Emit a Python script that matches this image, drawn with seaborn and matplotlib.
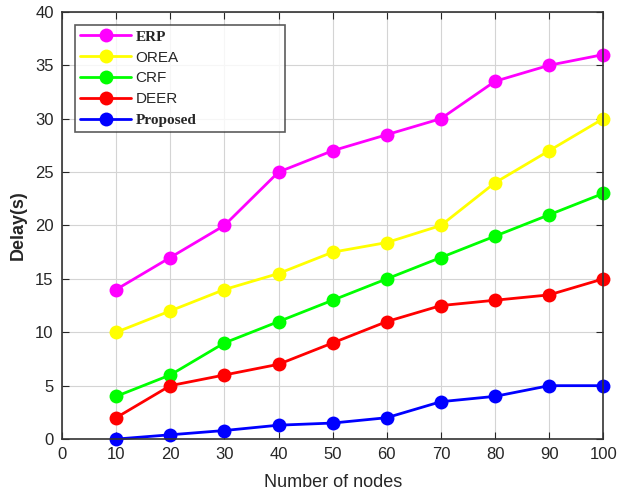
import pandas as pd
import seaborn as sns
from matplotlib import pyplot as plt

nodes = [10, 20, 30, 40, 50, 60, 70, 80, 90, 100]
erp = [14, 17, 20, 25, 27, 28.5, 30, 33.5, 35, 36]
orea = [10, 12, 14, 15.5, 17.5, 18.4, 20, 24, 27, 30]
crf = [4, 6, 9, 11, 13, 15, 17, 19, 21, 23]
deer = [2, 5, 6, 7, 9, 11, 12.5, 13, 13.5, 15]
proposed = [0, 0.4, 0.8, 1.3, 1.5, 2, 3.5, 4, 5, 5]

methods = ['ERP', 'OREA', 'CRF', 'DEER', 'Proposed']
colors = ['#ff00ff', '#ffff00', '#00ff00', '#ff0000', '#0000ff']
xticks = [0, 10, 20, 30, 40, 50, 60, 70, 80, 90, 100]
yticks = [0, 5, 10, 15, 20, 25, 30, 35, 40]

frames = []
for name, vals in zip(methods, [erp, orea, crf, deer, proposed]):
    frames.append(pd.DataFrame({'nodes': nodes, 'delay': vals, 'method': name}))
df = pd.concat(frames, ignore_index=True)

sns.set_style('ticks')
plt.rcParams['font.family'] = ['Liberation Sans', 'DejaVu Sans']

fig = plt.figure(figsize=(6.2, 4.95), dpi=100)
ax = fig.add_axes([0.1, 0.113, 0.873, 0.863])

sns.lineplot(data=df, x='nodes', y='delay', hue='method', hue_order=methods,
             palette=colors, marker='o', markersize=10, markeredgewidth=0,
             linewidth=2, ax=ax)

ax.set_xlim(0, 100)
ax.set_ylim(0, 40)
ax.set_xticks(xticks)
ax.set_yticks(yticks)
ax.grid(True, color='#d4d4d4', linewidth=0.8)
ax.set_axisbelow(True)
ax.tick_params(direction='in', top=True, right=True, labelsize=12, length=5, pad=6)
for s in ax.spines.values():
    s.set_linewidth(1.2)
    s.set_color('#333333')
for m in ax.lines:
    m.set_clip_on(False)

ax.set_xlabel('Number of nodes', fontsize=13, labelpad=8)
ax.set_ylabel('Delay(s)', fontsize=13, fontweight='bold', labelpad=6)

leg = ax.legend(loc='upper left', bbox_to_anchor=(0.024, 0.719, 0.388, 0.251),
                mode='expand', fontsize=11,
                frameon=True, fancybox=False, edgecolor='#333333',
                handlelength=3.3, borderpad=0.35, labelspacing=0.45,
                handletextpad=0.3, borderaxespad=0)
leg.get_frame().set_linewidth(1.2)
for t in leg.get_texts():
    if t.get_text() in ('ERP', 'Proposed'):
        t.set_fontfamily('Liberation Serif')
        t.set_fontweight('bold')

fig.savefig('out.png', dpi=100)
